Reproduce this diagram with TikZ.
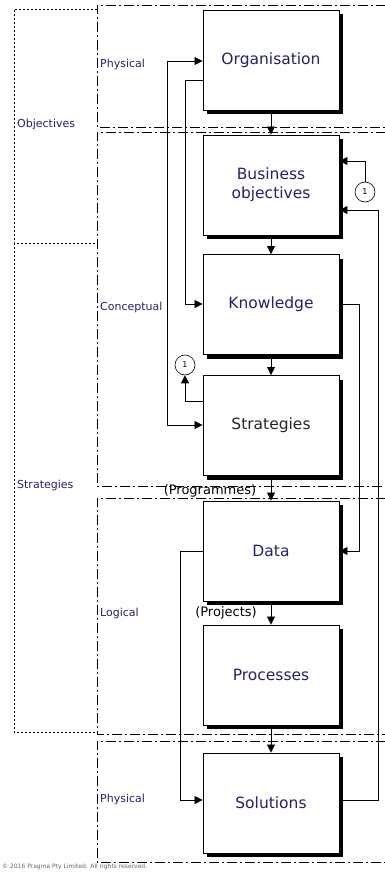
\documentclass[tikz,border=0pt]{standalone}
\usepackage{fontspec}
\setmainfont{DejaVu Sans}
\usetikzlibrary{arrows.meta,shadows}
\definecolor{navy}{HTML}{23236A}
\begin{document}
\begin{tikzpicture}[x=1pt,y=-1pt,
  >={Triangle[length=8pt,width=8pt]},
  box/.style={draw=black, line width=0.9pt, fill=white, minimum width=136pt,
    minimum height=100pt, inner sep=0pt, align=center,
    font=\fontsize{15.5}{19}\selectfont, text=navy,
    drop shadow={shadow xshift=4pt, shadow yshift=-4pt, fill=black, opacity=1}},
  lane/.style={line width=0.9pt, dash pattern=on 10pt off 3pt on 2pt off 3pt},
  group/.style={line width=0.8pt, dash pattern=on 2pt off 2pt},
  lab/.style={anchor=west, inner sep=0pt, font=\fontsize{11}{13}\selectfont, text=navy},
  flow/.style={line width=0.8pt, ->},
  circ/.style={circle, draw, line width=0.6pt, minimum size=20pt, inner sep=0pt, fill=white,
    font=\fontsize{8}{9}\selectfont},
  phase/.style={inner sep=0pt, font=\fontsize{13}{15}\selectfont, text=black}]
\useasboundingbox (0,0) rectangle (385,872);
% swim lanes
\draw[lane] (386,5) -- (97,5) -- (97,127) -- (386,127);
\draw[lane] (386,132) -- (97,132) -- (97,486) -- (386,486);
\draw[lane] (386,498) -- (97,498) -- (97,734) -- (386,734);
\draw[lane] (386,741) -- (97,741) -- (97,862) -- (386,862);
% left groups
\draw[group] (97,9) -- (14,9) -- (14,243) -- (97,243);
\draw[group] (14,243) -- (14,732) -- (97,732);
% labels
\node[lab] (lobj) at (17,124) {Objectives};
\node[lab] (lstr) at (17,485) {Strategies};
\node[lab] (lphys1) at (100,64) {Physical};
\node[lab] (lconc) at (100,307) {Conceptual};
\node[lab] (llog) at (100,613) {Logical};
\node[lab] (lphys2) at (100,799) {Physical};
% boxes
\node[box] (org) at (271,60.5) {Organisation};
\node[box] (bus) at (271,185) {Business\\objectives};
\node[box] (know) at (271,304.5) {Knowledge};
\node[box, text=black!85] (strat) at (271,425.5) {Strategies};
\node[box] (data) at (271,551) {Data};
\node[box] (proc) at (271,675) {Processes};
\node[box] (sol) at (271,803) {Solutions};
% circles
\node[circ] (c1) at (185,365) {1};
\node[circ] (c2) at (365,192) {1};
% main flow
\draw[flow] (org) -- (bus);
\draw[flow] (bus) -- (know);
\draw[flow] (know) -- (strat);
\draw[flow] (strat) -- (data);
\draw[flow] (data) -- (proc);
\draw[flow] (proc) -- (sol);
% phase labels
\node[phase] (prog) at (210,491) {(Programmes)};
\node[phase] (proj) at (226,613) {(Projects)};
% feedback connectors
\draw[line width=0.8pt, <->] (org.west |- 0,61) -- (167,61) -- (167,425) -- (strat.west |- 0,425);
\draw[flow] (org.west |- 0,80) -- (185,80) -- (185,304) -- (know.west |- 0,304);
\draw[flow] (strat.west |- 0,401) -- (185,401) -- (c1.south);
\draw[flow] (c2.north) -- (365,161) -- (bus.east |- 0,161);
\draw[flow] (sol.east |- 0,800) -- (378,800) -- (378,210) -- (bus.east |- 0,210);
\draw[flow] (know.east |- 0,304) -- (359,304) -- (359,551) -- (data.east |- 0,551);
\draw[flow] (data.west |- 0,551) -- (180,551) -- (180,800) -- (sol.west |- 0,800);
% copyright
\node[anchor=west, inner sep=0pt, font=\fontsize{6}{7}\selectfont, text=black!60] (copy) at (2,867) {© 2016 Pragma Pty Limited. All rights reserved.};
\end{tikzpicture}
\end{document}
